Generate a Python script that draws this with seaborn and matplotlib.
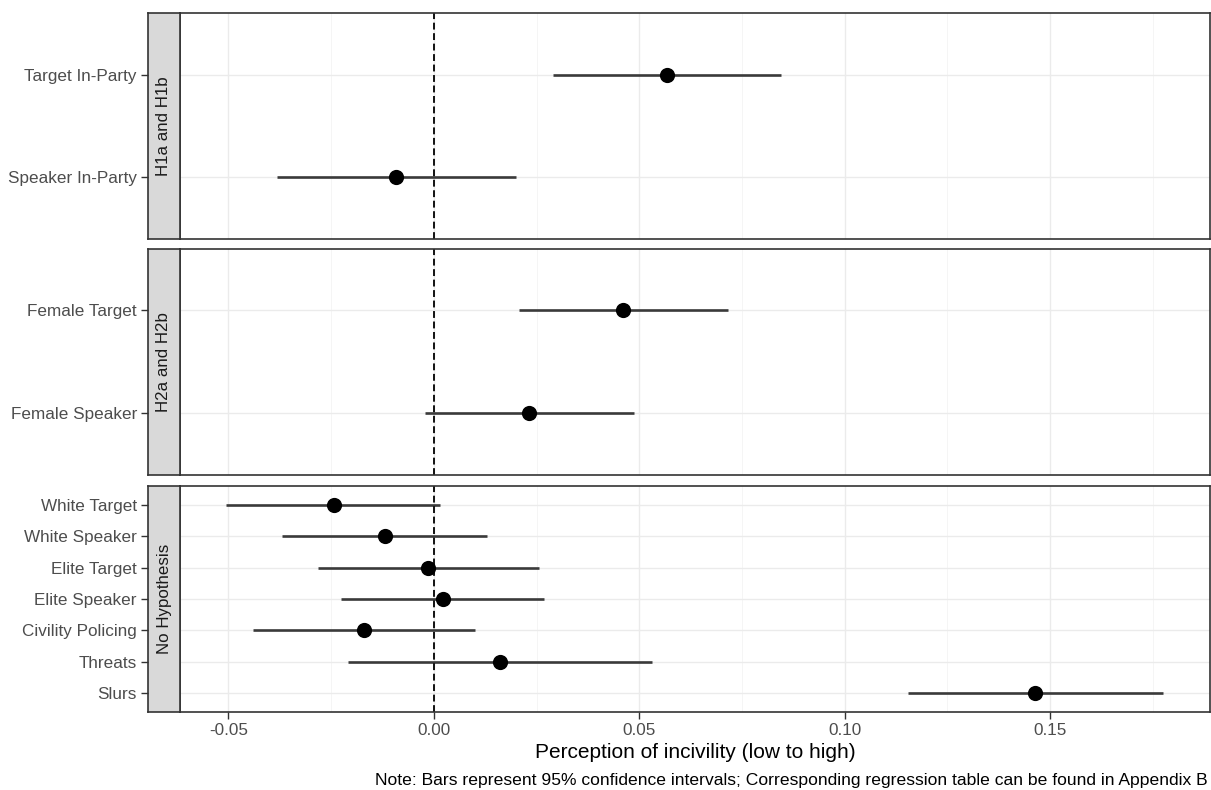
import numpy as np
import pandas as pd
import matplotlib.pyplot as plt
import seaborn as sns

# facet panels, top to bottom
panels = ["H1a and H1b", "H2a and H2b", "No Hypothesis"]

terms_h1 = ["Target In-Party", "Speaker In-Party"]
est_h1 = [0.0568, -0.0093]
lo_h1 = [0.0290, -0.0383]
hi_h1 = [0.0846, 0.0201]

terms_h2 = ["Female Target", "Female Speaker"]
est_h2 = [0.0461, 0.0232]
lo_h2 = [0.0208, -0.0021]
hi_h2 = [0.0716, 0.0487]

terms_nh = ["White Target", "White Speaker", "Elite Target", "Elite Speaker",
            "Civility Policing", "Threats", "Slurs"]
est_nh = [-0.0244, -0.0120, -0.0014, 0.0022, -0.0171, 0.0162, 0.1462]
lo_nh = [-0.0505, -0.0370, -0.0283, -0.0226, -0.0441, -0.0208, 0.1154]
hi_nh = [0.0015, 0.0130, 0.0255, 0.0269, 0.0101, 0.0531, 0.1774]

xticks = [-0.05, 0.00, 0.05, 0.10, 0.15]
xtick_labels = ["-0.05", "0.00", "0.05", "0.10", "0.15"]
xminor = [-0.025, 0.025, 0.075, 0.125, 0.175]

rows = []
for panel, terms, est, lo, hi in zip(panels,
                                     [terms_h1, terms_h2, terms_nh],
                                     [est_h1, est_h2, est_nh],
                                     [lo_h1, lo_h2, lo_nh],
                                     [hi_h1, hi_h2, hi_nh]):
    for i, t in enumerate(terms):
        rows.append({"panel": panel, "term": t, "pos": i,
                     "estimate": est[i], "lo": lo[i], "hi": hi[i]})
df = pd.DataFrame(rows)

sns.set_theme(style="white")
plt.rcParams['font.family'] = ['Liberation Sans', 'DejaVu Sans']

W, H = 1211, 790
fig = plt.figure(figsize=(W / 100, H / 100), dpi=100)


def box(x0, y0, x1, y1):
    return [x0 / W, 1 - y1 / H, (x1 - x0) / W, (y1 - y0) / H]


panel_y = [(13, 238.5), (249, 474.5), (486, 712)]
dark = "#333333"
first = None
for k, panel in enumerate(panels):
    y0, y1 = panel_y[k]
    ax = fig.add_axes(box(180, y0, 1210, y1), sharex=first)
    if first is None:
        first = ax
    strip = fig.add_axes(box(148, y0, 180, y1), sharey=ax)
    sub = df[df.panel == panel]
    n = len(sub)

    ax.hlines(sub.pos, sub.lo, sub.hi, color="#3a3a3a", lw=1.9, zorder=2)
    sns.scatterplot(data=sub, x="estimate", y="pos", color="black", s=120,
                    linewidth=0, ax=ax, zorder=3, legend=False)
    ax.axvline(0, color="black", lw=1.3, ls=(0, (3.8, 2)), zorder=2.5)

    ax.set_xlim(-0.0618, 0.1889)
    ax.set_ylim(n - 0.4, -0.6)
    ax.set_xticks(xticks)
    ax.set_xticklabels(xtick_labels)
    ax.set_xticks(xminor, minor=True)
    ax.grid(which="major", color="#EBEBEB", lw=1.0, zorder=0)
    ax.grid(which="minor", axis="x", color="#F4F4F4", lw=0.6, zorder=0)
    ax.set_axisbelow(True)
    ax.set_xlabel("")
    ax.set_ylabel("")
    for sp in ax.spines.values():
        sp.set_color(dark)
        sp.set_linewidth(1.2)
    ax.tick_params(axis="y", left=False, labelleft=False)
    ax.tick_params(which="minor", length=0)
    if k < 2:
        ax.tick_params(axis="x", bottom=False, labelbottom=False)
    else:
        ax.tick_params(axis="x", bottom=True, length=5, width=1, color=dark,
                       labelsize=12.3, labelcolor="#4D4D4D", pad=3)

    # strip on the left, holding the y tick labels
    strip.set_facecolor("#D9D9D9")
    strip.set_yticks(sub.pos)
    strip.set_yticklabels(sub.term)
    strip.set_xticks([])
    strip.tick_params(axis="y", left=True, length=5, width=1, color=dark,
                      labelsize=12.3, labelcolor="#4D4D4D", pad=3)
    strip.grid(False)
    for sp in strip.spines.values():
        sp.set_color(dark)
        sp.set_linewidth(1.2)
    strip.text(0.5, 0.5, panel, rotation=90, ha="center", va="center",
               fontsize=12.2, color="#1A1A1A", transform=strip.transAxes)

fig.text(695 / W, 1 - 752 / H, "Perception of incivility (low to high)",
         ha="center", va="center", fontsize=15, color="black")
fig.text(1208 / W, 1 - 780 / H,
         "Note: Bars represent 95% confidence intervals; Corresponding regression table can be found in Appendix B",
         ha="right", va="center", fontsize=12.6, color="black")

fig.savefig("out.png", dpi=100)
